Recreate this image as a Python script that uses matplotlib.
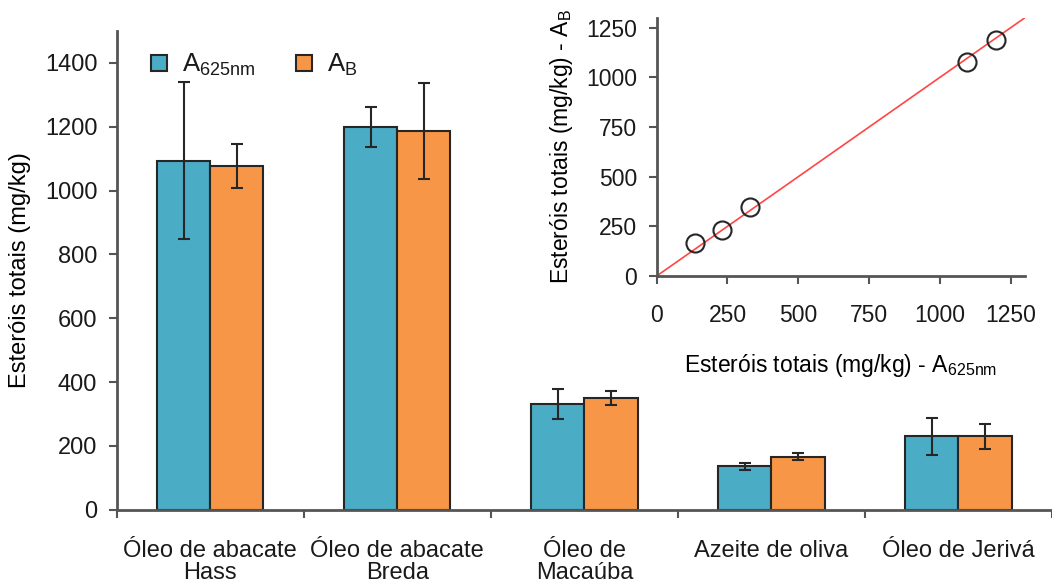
import numpy as np
import matplotlib.pyplot as plt

plt.rcParams['font.family'] = ['Liberation Sans', 'DejaVu Sans']
plt.rcParams['mathtext.default'] = 'regular'
plt.rcParams['font.size'] = 17
plt.rcParams['text.color'] = '#1a1a1a'
plt.rcParams['xtick.color'] = '#555555'
plt.rcParams['ytick.color'] = '#555555'
plt.rcParams['xtick.labelcolor'] = '#1a1a1a'
plt.rcParams['ytick.labelcolor'] = '#1a1a1a'

# total sterols per oil, two quantification methods
oleos = ['Óleo de abacate\nHass', 'Óleo de abacate\nBreda', 'Óleo de\nMacaúba',
         'Azeite de oliva', 'Óleo de Jerivá']
a625 = [1094, 1199, 330, 136, 230]
a625_err = [245, 63, 47, 11, 59]
ab = [1077, 1187, 349, 167, 230]
ab_err = [69, 150, 22, 10, 40]

teal = '#4BACC6'
orange = '#F79646'
edge = '#262626'

fig = plt.figure(figsize=(10.52, 5.86), dpi=100)

ax = fig.add_axes([0.111, 0.13, 0.889, 0.817])
x = np.arange(len(oleos))
w = 0.284
ekw = dict(elinewidth=1.5, capthick=1.5, ecolor=edge)
ax.bar(x - w / 2, a625, w, yerr=a625_err, color=teal, edgecolor=edge, linewidth=1.5,
       capsize=4, error_kw=ekw, label='A$_{625nm}$')
ax.bar(x + w / 2, ab, w, yerr=ab_err, color=orange, edgecolor=edge, linewidth=1.5,
       capsize=4, error_kw=ekw, label='A$_{B}$')

ax.set_xlim(-0.5, len(oleos) - 0.5)
ax.set_ylim(0, 1500)
ax.set_yticks(np.arange(0, 1401, 200))
ax.set_xticks(np.arange(-0.5, len(oleos), 1.0))
ax.set_xticklabels([])
ax.set_xticks(x, minor=True)
ax.set_xticklabels(oleos, minor=True, linespacing=1.0)
ax.tick_params(axis='x', which='minor', length=0, pad=22)
ax.tick_params(axis='x', which='major', direction='out', length=6, width=1.5)
ax.tick_params(axis='y', direction='out', length=6, width=1.5, pad=8)
for side in ['top', 'right']:
    ax.spines[side].set_visible(False)
for side in ['left', 'bottom']:
    ax.spines[side].set_color('#555555')
    ax.spines[side].set_linewidth(2)
ax.set_ylabel('Esteróis totais (mg/kg)', labelpad=10)
ax.legend(loc='upper left', bbox_to_anchor=(0.012, 1.005), ncol=2, frameon=False,
          fontsize=18.5, handlelength=0.6, handleheight=0.6, handletextpad=0.6,
          columnspacing=1.6)

# inset: method agreement
ins = fig.add_axes([0.6242, 0.529, 0.3501, 0.4408])
ins.plot([0, 1300], [0, 1300], color='#FF4545', linewidth=1.2)
ins.plot(a625, ab, 'o', markersize=13, markerfacecolor='none',
         markeredgecolor=edge, markeredgewidth=1.5)
ins.set_xlim(0, 1300)
ins.set_ylim(0, 1300)
ins.set_xticks(np.arange(0, 1251, 250))
ins.set_yticks(np.arange(0, 1251, 250))
ins.tick_params(direction='out', length=6, width=1.5, labelsize=16.5)
ins.tick_params(axis='x', pad=14)
ins.tick_params(axis='y', pad=8)
for side in ['top', 'right']:
    ins.spines[side].set_visible(False)
for side in ['left', 'bottom']:
    ins.spines[side].set_color('#555555')
    ins.spines[side].set_linewidth(2)
ins.set_xlabel('Esteróis totais (mg/kg) - A$_{625nm}$', fontsize=16.5, labelpad=18)
ins.set_ylabel('Esteróis totais (mg/kg) - A$_{B}$', fontsize=16.5, labelpad=8)

fig.savefig('out.png', dpi=100)
